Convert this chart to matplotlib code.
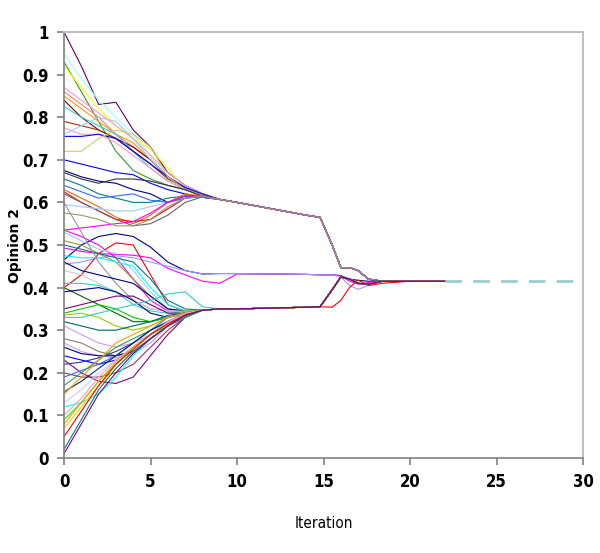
import matplotlib.pyplot as plt
import numpy as np

plt.rcParams['font.family'] = ['Liberation Sans Narrow', 'Liberation Sans', 'DejaVu Sans']

# iterations for the early (spreading) part of each trajectory
early_it = [0, 1, 2, 3, 4, 5, 6, 7, 8]

# cluster paths after iteration 8 (all agents in a cluster share it)
tail_it = [8, 9, 10, 12, 14, 14.8, 15.5, 16, 16.5, 17, 17.6, 18.4, 20, 22]
top_tail = [0.615, 0.607, 0.600, 0.585, 0.570, 0.565, 0.500, 0.447, 0.447, 0.440, 0.420, 0.415, 0.415, 0.415]
mid_tail = [0.432, 0.433, 0.433, 0.432, 0.431, 0.430, 0.430, 0.428, 0.420, 0.417, 0.415, 0.415, 0.415, 0.415]
mid_loop_tail = [0.432, 0.433, 0.433, 0.432, 0.431, 0.430, 0.430, 0.425, 0.405, 0.396, 0.405, 0.415, 0.415, 0.415]
mid_dip_tail = [0.415, 0.410, 0.432, 0.432, 0.431, 0.430, 0.430, 0.428, 0.415, 0.408, 0.412, 0.415, 0.415, 0.415]
low_tail = [0.347, 0.350, 0.350, 0.352, 0.354, 0.355, 0.395, 0.425, 0.420, 0.410, 0.408, 0.415, 0.415, 0.415]
low_red_tail = [0.347, 0.350, 0.350, 0.352, 0.354, 0.355, 0.354, 0.370, 0.400, 0.418, 0.405, 0.410, 0.415, 0.415]

tails = {'top': top_tail, 'mid': mid_tail, 'loop': mid_loop_tail,
         'dip': mid_dip_tail, 'low': low_tail, 'red': low_red_tail}

# consensus reached at the end
consensus_it = [22, 30]
consensus_value = 0.415

# opinion of each agent at iterations 0..8
early_values = [
    [1.00, 0.92, 0.83, 0.835, 0.77, 0.73, 0.67, 0.64, 0.620],
    [0.95, 0.89, 0.84, 0.80, 0.76, 0.71, 0.66, 0.635, 0.620],
    [0.93, 0.86, 0.79, 0.72, 0.675, 0.655, 0.64, 0.63, 0.618],
    [0.92, 0.87, 0.82, 0.78, 0.75, 0.725, 0.68, 0.63, 0.615],
    [0.87, 0.84, 0.81, 0.78, 0.75, 0.71, 0.67, 0.64, 0.620],
    [0.86, 0.83, 0.80, 0.76, 0.73, 0.70, 0.66, 0.635, 0.620],
    [0.85, 0.82, 0.79, 0.76, 0.74, 0.70, 0.66, 0.63, 0.615],
    [0.84, 0.80, 0.77, 0.75, 0.73, 0.70, 0.66, 0.63, 0.615],
    [0.825, 0.80, 0.78, 0.76, 0.72, 0.68, 0.65, 0.63, 0.618],
    [0.79, 0.78, 0.77, 0.75, 0.72, 0.69, 0.655, 0.635, 0.620],
    [0.775, 0.76, 0.76, 0.74, 0.71, 0.68, 0.65, 0.63, 0.618],
    [0.76, 0.78, 0.80, 0.79, 0.75, 0.70, 0.66, 0.635, 0.620],
    [0.755, 0.755, 0.76, 0.75, 0.72, 0.69, 0.66, 0.635, 0.620],
    [0.72, 0.72, 0.75, 0.77, 0.76, 0.73, 0.66, 0.63, 0.615],
    [0.70, 0.69, 0.68, 0.67, 0.665, 0.645, 0.63, 0.62, 0.612],
    [0.675, 0.66, 0.65, 0.645, 0.63, 0.62, 0.60, 0.615, 0.612],
    [0.67, 0.655, 0.645, 0.655, 0.655, 0.65, 0.64, 0.63, 0.615],
    [0.655, 0.64, 0.62, 0.61, 0.60, 0.60, 0.61, 0.615, 0.615],
    [0.63, 0.61, 0.59, 0.565, 0.55, 0.57, 0.60, 0.62, 0.615],
    [0.625, 0.60, 0.58, 0.56, 0.555, 0.56, 0.585, 0.61, 0.615],
    [0.62, 0.60, 0.58, 0.56, 0.545, 0.55, 0.57, 0.60, 0.613],
    [0.595, 0.59, 0.585, 0.58, 0.58, 0.59, 0.60, 0.61, 0.613],
    [0.64, 0.625, 0.61, 0.615, 0.62, 0.605, 0.60, 0.61, 0.613],
    [0.535, 0.54, 0.545, 0.55, 0.555, 0.575, 0.60, 0.615, 0.615],
    [0.575, 0.57, 0.56, 0.545, 0.545, 0.56, 0.59, 0.61, 0.615],
    [0.465, 0.50, 0.52, 0.527, 0.52, 0.495, 0.46, 0.44, 0.432],
    [0.493, 0.485, 0.48, 0.478, 0.476, 0.47, 0.445, 0.43, 0.415],
    [0.455, 0.46, 0.47, 0.475, 0.47, 0.46, 0.45, 0.44, 0.432],
    [0.40, 0.43, 0.48, 0.505, 0.50, 0.43, 0.36, 0.345, 0.347],
    [0.535, 0.52, 0.50, 0.47, 0.42, 0.37, 0.345, 0.345, 0.347],
    [0.53, 0.51, 0.49, 0.48, 0.44, 0.39, 0.35, 0.345, 0.347],
    [0.51, 0.50, 0.48, 0.46, 0.42, 0.38, 0.35, 0.345, 0.347],
    [0.50, 0.49, 0.48, 0.47, 0.46, 0.42, 0.37, 0.35, 0.347],
    [0.475, 0.47, 0.47, 0.46, 0.45, 0.40, 0.36, 0.345, 0.347],
    [0.60, 0.53, 0.46, 0.41, 0.37, 0.35, 0.345, 0.345, 0.347],
    [0.46, 0.44, 0.43, 0.42, 0.41, 0.38, 0.35, 0.345, 0.347],
    [0.44, 0.43, 0.41, 0.39, 0.37, 0.35, 0.345, 0.345, 0.347],
    [0.41, 0.41, 0.405, 0.39, 0.36, 0.345, 0.34, 0.343, 0.347],
    [0.40, 0.38, 0.36, 0.34, 0.32, 0.32, 0.33, 0.34, 0.347],
    [0.39, 0.395, 0.40, 0.39, 0.37, 0.34, 0.33, 0.34, 0.347],
    [0.35, 0.36, 0.37, 0.38, 0.38, 0.36, 0.34, 0.34, 0.347],
    [0.34, 0.35, 0.36, 0.35, 0.33, 0.32, 0.33, 0.34, 0.347],
    [0.335, 0.34, 0.33, 0.31, 0.30, 0.31, 0.33, 0.345, 0.347],
    [0.33, 0.33, 0.34, 0.35, 0.36, 0.37, 0.385, 0.39, 0.355],
    [0.32, 0.31, 0.30, 0.30, 0.31, 0.32, 0.335, 0.34, 0.347],
    [0.31, 0.29, 0.27, 0.26, 0.27, 0.29, 0.32, 0.34, 0.347],
    [0.28, 0.27, 0.25, 0.24, 0.25, 0.28, 0.31, 0.335, 0.347],
    [0.27, 0.25, 0.24, 0.235, 0.245, 0.27, 0.31, 0.335, 0.347],
    [0.26, 0.245, 0.24, 0.24, 0.25, 0.28, 0.31, 0.335, 0.347],
    [0.24, 0.23, 0.22, 0.23, 0.26, 0.29, 0.32, 0.34, 0.347],
    [0.23, 0.20, 0.18, 0.175, 0.19, 0.24, 0.29, 0.33, 0.347],
    [0.22, 0.225, 0.235, 0.25, 0.27, 0.30, 0.32, 0.335, 0.347],
    [0.20, 0.19, 0.19, 0.20, 0.22, 0.26, 0.30, 0.33, 0.347],
    [0.19, 0.205, 0.22, 0.24, 0.27, 0.30, 0.33, 0.34, 0.347],
    [0.17, 0.20, 0.23, 0.26, 0.28, 0.30, 0.32, 0.34, 0.347],
    [0.155, 0.18, 0.21, 0.24, 0.27, 0.30, 0.32, 0.335, 0.347],
    [0.15, 0.19, 0.23, 0.27, 0.29, 0.31, 0.33, 0.34, 0.347],
    [0.13, 0.16, 0.20, 0.23, 0.26, 0.29, 0.32, 0.335, 0.347],
    [0.12, 0.13, 0.15, 0.19, 0.24, 0.28, 0.31, 0.33, 0.347],
    [0.10, 0.14, 0.19, 0.23, 0.26, 0.29, 0.32, 0.34, 0.347],
    [0.09, 0.13, 0.18, 0.22, 0.26, 0.29, 0.31, 0.335, 0.347],
    [0.08, 0.13, 0.18, 0.225, 0.26, 0.29, 0.315, 0.335, 0.347],
    [0.07, 0.12, 0.17, 0.21, 0.25, 0.28, 0.31, 0.33, 0.347],
    [0.05, 0.11, 0.17, 0.22, 0.255, 0.29, 0.315, 0.335, 0.347],
    [0.02, 0.09, 0.16, 0.21, 0.25, 0.28, 0.31, 0.33, 0.347],
    [0.01, 0.08, 0.15, 0.20, 0.245, 0.28, 0.31, 0.335, 0.347],
]

agent_tail = (['top'] * 25 + ['mid', 'dip', 'loop', 'red'] + ['low'] * 38)

agent_color = [
    '#660066', '#99ffff', '#339933', '#ffff00', '#ff99cc', '#ff8080', '#ff9900', '#800000',
    '#33cccc', '#993300', '#ff99cc', '#99ccff', '#0000ff', '#cccc66', '#0000ff', '#000080',
    '#333333', '#008080', '#ff6600', '#ff0000', '#666666', '#99ccff', '#3366ff', '#ff00ff',
    '#999966', '#000080', '#ff00ff', '#9999ff', '#ff0000', '#ff00ff', '#99ccff', '#999933',
    '#008080', '#00ffff', '#969696', '#000080', '#cccccc', '#33cccc', '#006600', '#000080',
    '#800080', '#00cc00', '#99cc00', '#33cccc', '#006666', '#cc99ff', '#808080', '#cc99ff',
    '#000080', '#0000ff', '#800080', '#333399', '#993366', '#3366ff', '#339966', '#003366',
    '#ff9900', '#ccccff', '#00ffff', '#ff99cc', '#00ff00', '#ff9900', '#ffcc00', '#ff0000',
    '#008080', '#800080',
]

fig = plt.figure(figsize=(6, 5.53), dpi=100)
ax = fig.add_axes([0.1067, 0.1718, 0.865, 0.7703])

for vals, tail_name, col in zip(early_values, agent_tail, agent_color):
    tail = tails[tail_name]
    x = early_it + tail_it[1:]
    y = vals + tail[1:]
    ax.plot(x, y, color=col, lw=0.8)

ax.plot(consensus_it, [consensus_value] * len(consensus_it), color='#99cccc',
        lw=2, dashes=(6, 4))

ax.set_xlim(0, 30)
ax.set_ylim(0, 1)
ax.set_xticks(np.arange(0, 31, 5))
ax.set_yticks(np.arange(0, 1.01, 0.1))
ax.set_yticklabels(['0', '0.1', '0.2', '0.3', '0.4', '0.5', '0.6', '0.7', '0.8', '0.9', '1'])

for side in ['left', 'bottom']:
    ax.spines[side].set_color('#808080')
    ax.spines[side].set_linewidth(1.2)
for side in ['top', 'right']:
    ax.spines[side].set_color('#c0c0c0')
    ax.spines[side].set_linewidth(1.5)

ax.tick_params(axis='both', direction='out', length=5, width=1.2, color='#808080', pad=6)
for lab in ax.get_xticklabels() + ax.get_yticklabels():
    lab.set_family(['DejaVu Sans', 'Liberation Sans'])
    lab.set_fontstretch('condensed')
    lab.set_fontsize(12)
    lab.set_fontweight('bold')

ax.set_xlabel('Iteration', fontsize=11, family=['DejaVu Sans'], fontstretch='condensed',
              labelpad=18)
ax.set_ylabel('Opinion 2', fontsize=10, fontweight='bold', family='DejaVu Sans')
ax.yaxis.set_label_coords(-0.081, 0.5)

fig.savefig('out.png', dpi=100, facecolor='white')
